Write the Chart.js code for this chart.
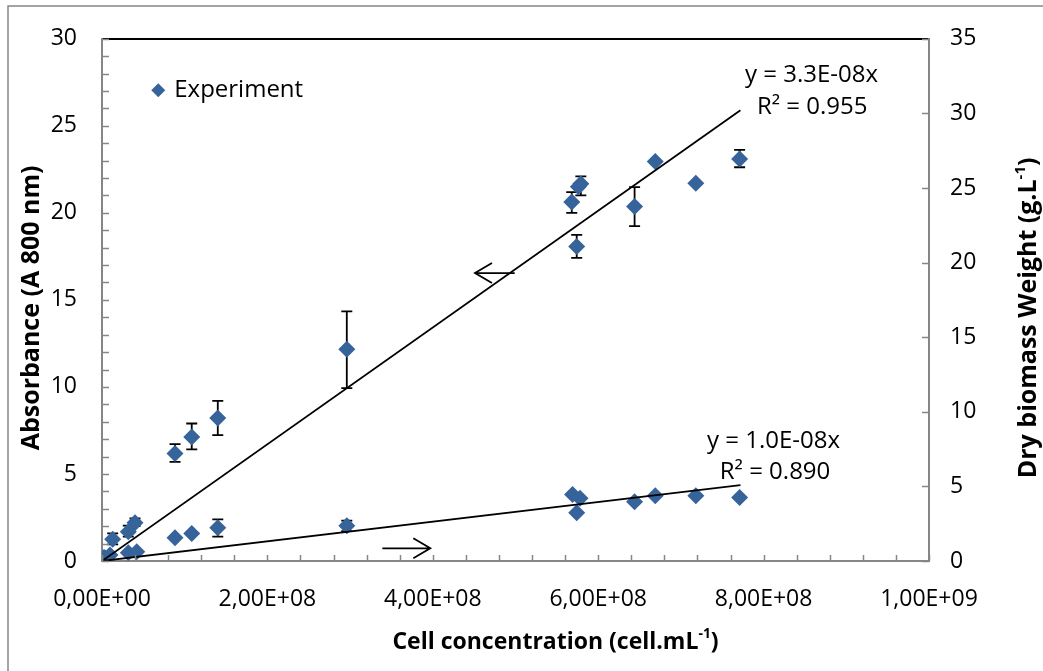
<!DOCTYPE html>
<html>
<head>
<meta charset="utf-8">
<script src="https://cdn.jsdelivr.net/npm/chart.js@4.4.1/dist/chart.umd.min.js"></script>
<style>
  html, body { margin: 0; padding: 0; background: #fff; overflow: hidden; }
</style>
</head>
<body>
<canvas id="chart" width="1043" height="671"></canvas>
<script>
// absorbance vs cell concentration (left axis)
const absX = [2.4e6, 9.7e6, 1.29e7, 3.18e7, 3.99e7, 8.83e7, 1.085e8, 1.40e8, 2.96e8,
              5.68e8, 5.74e8, 5.76e8, 5.79e8, 6.44e8, 6.69e8, 7.18e8, 7.71e8];
const absY = [0.2, 0.35, 1.25, 1.68, 2.2, 6.18, 7.13, 8.22, 12.16,
              20.62, 18.07, 21.5, 21.67, 20.37, 22.95, 21.7, 23.1];
const absLow = [null, null, 0.95, 1.4, 2.0, 5.7, 6.41, 7.23, 9.93,
                20.0, 17.42, null, 21.0, 19.24, null, null, 22.62];
const absHigh = [null, null, 1.59, 2.03, 2.45, 6.71, 7.9, 9.2, 14.34,
                 21.19, 18.74, null, 22.1, 21.48, null, null, 23.62];

// dry biomass vs cell concentration (right axis)
const bioX = [3.7e6, 3.18e7, 4.2e7, 8.83e7, 1.085e8, 1.40e8, 2.96e8,
              5.69e8, 5.74e8, 5.78e8, 6.44e8, 6.69e8, 7.18e8, 7.71e8];
const bioY = [0.2, 0.56, 0.62, 1.56, 1.85, 2.23, 2.36,
              4.46, 3.23, 4.2, 3.97, 4.37, 4.37, 4.26];
const bioLow = [null, null, null, null, null, 1.63, 2.0, null, null, null, null, null, null, null];
const bioHigh = [null, null, null, null, null, 2.79, 2.7, null, null, null, null, null, null, null];

// trendlines as drawn (through origin)
const trendAbsX = [0, 7.72e8];
const trendAbsY = [0, 25.9];
const trendBioX = [0, 7.72e8];
const trendBioY = [0, 5.09];

// arrows pointing to the axis each series belongs to (left axis units)
const arrowFromX = [4.99e8, 3.39e8];
const arrowToX = [4.51e8, 3.97e8];
const arrowY = [16.54, 0.73];

// trendline labels: [text, x, y (left axis units)]
const eqLabels = [
    ["y = 3.3E-08x", 7.775e8, 27.94],
    ["R\u00b2 = 0.955", 7.92e8, 26.1],
    ["y = 1.0E-08x", 7.315e8, 6.88],
    ["R\u00b2 = 0.890", 7.47e8, 5.1],
];

const legendLabel = "Experiment";
const markerColor = "#36649a";
const axisGrey = "#868686";
const font = "'Open Sans', 'Noto Sans', sans-serif";

const toPts = (xs, ys) => xs.map((x, i) => ({ x: x, y: ys[i] }));

const sciLabel = (v) => {
    if (v === 0) return "0,00E+00";
    const e = Math.floor(Math.log10(v) + 1e-9);
    const m = v / Math.pow(10, e);
    return m.toFixed(2).replace(".", ",") + "E+" + String(e).padStart(2, "0");
};

const drawRich = (ctx, parts, x, y, size, rotate) => {
    ctx.save();
    ctx.translate(x, y);
    if (rotate) ctx.rotate(-Math.PI / 2);
    ctx.textBaseline = "middle";
    ctx.textAlign = "left";
    let total = 0;
    parts.forEach((p) => {
        ctx.font = "bold " + (p.sup ? size * 0.6 : size) + "px " + font;
        total += ctx.measureText(p.t).width;
    });
    let cx = -total / 2;
    parts.forEach((p) => {
        ctx.font = "bold " + (p.sup ? size * 0.6 : size) + "px " + font;
        ctx.fillText(p.t, cx, p.sup ? -size * 0.35 : 0);
        cx += ctx.measureText(p.t).width;
    });
    ctx.restore();
};

const extras = {
    id: "extras",
    beforeDraw(chart) {
        const ctx = chart.ctx;
        ctx.save();
        ctx.strokeStyle = axisGrey;
        ctx.lineWidth = 1.5;
        ctx.strokeRect(8, 6, 1100, 700);
        ctx.restore();
    },
    beforeDatasetsDraw(chart) {
        const ctx = chart.ctx;
        const xs = chart.scales.x;
        ctx.save();
        ctx.strokeStyle = "#000";
        ctx.lineWidth = 1.8;
        const bars = (X, lo, hi, scale) => {
            X.forEach((xv, i) => {
                if (lo[i] === null) return;
                const px = xs.getPixelForValue(xv);
                const p1 = scale.getPixelForValue(lo[i]);
                const p2 = scale.getPixelForValue(hi[i]);
                ctx.beginPath();
                ctx.moveTo(px, p1); ctx.lineTo(px, p2);
                ctx.moveTo(px - 5.5, p1); ctx.lineTo(px + 5.5, p1);
                ctx.moveTo(px - 5.5, p2); ctx.lineTo(px + 5.5, p2);
                ctx.stroke();
            });
        };
        bars(absX, absLow, absHigh, chart.scales.y);
        bars(bioX, bioLow, bioHigh, chart.scales.y2);
        ctx.restore();
    },
    afterDraw(chart) {
        const ctx = chart.ctx;
        const { x: xs, y: ys, y2: ys2 } = chart.scales;
        const a = chart.chartArea;
        ctx.save();
        // inside tick marks
        ctx.strokeStyle = axisGrey;
        ctx.lineWidth = 1.5;
        ctx.beginPath();
        for (let v = 0; v <= 1e9 + 1; v += 4e7) {
            const px = Math.round(xs.getPixelForValue(v)) + 0.5;
            ctx.moveTo(px, a.bottom); ctx.lineTo(px, a.bottom - 6);
        }
        for (let v = 0; v <= 30; v += 1) {
            const py = Math.round(ys.getPixelForValue(v)) + 0.5;
            ctx.moveTo(a.left, py); ctx.lineTo(a.left + 7, py);
        }
        for (let v = 0; v <= 35; v += 5) {
            const py = Math.round(ys2.getPixelForValue(v)) + 0.5;
            ctx.moveTo(a.right, py); ctx.lineTo(a.right - 7, py);
        }
        ctx.stroke();

        // arrows
        ctx.strokeStyle = "#000";
        ctx.lineWidth = 1.8;
        arrowFromX.forEach((fx, i) => {
            const x1 = xs.getPixelForValue(fx);
            const x2 = xs.getPixelForValue(arrowToX[i]);
            const py = ys.getPixelForValue(arrowY[i]);
            const dir = x2 > x1 ? 1 : -1;
            ctx.beginPath();
            ctx.moveTo(x1, py); ctx.lineTo(x2, py);
            ctx.moveTo(x2 - dir * 17, py - 10); ctx.lineTo(x2, py); ctx.lineTo(x2 - dir * 17, py + 10);
            ctx.stroke();
        });

        // trendline labels
        ctx.fillStyle = "#000";
        ctx.font = "24px " + font;
        ctx.textBaseline = "middle";
        ctx.textAlign = "left";
        eqLabels.forEach(([t, xv, yv]) => {
            ctx.fillText(t, xs.getPixelForValue(xv), ys.getPixelForValue(yv));
        });

        // legend
        const lx = xs.getPixelForValue(0.68e8);
        const ly = ys.getPixelForValue(27.05);
        ctx.fillStyle = markerColor;
        ctx.beginPath();
        ctx.moveTo(lx, ly - 7); ctx.lineTo(lx + 7, ly); ctx.lineTo(lx, ly + 7); ctx.lineTo(lx - 7, ly);
        ctx.closePath();
        ctx.fill();
        ctx.fillStyle = "#000";
        ctx.font = "24px " + font;
        ctx.fillText(legendLabel, lx + 16, ly);

        // axis titles
        drawRich(ctx, [{ t: "Cell concentration (cell.mL" }, { t: "-1", sup: true }, { t: ")" }],
            (a.left + a.right) / 2 + 40, 642, 23, false);
        drawRich(ctx, [{ t: "Absorbance (A 800 nm)" }], 32, (a.top + a.bottom) / 2 + 8, 25, true);
        drawRich(ctx, [{ t: "Dry biomass Weight (g.L" }, { t: "-1", sup: true }, { t: ")" }],
            1029, (a.top + a.bottom) / 2 + 18, 25, true);
        ctx.restore();
    },
};

const tickFont = { family: font, size: 23 };

new Chart(document.getElementById("chart"), {
    type: "scatter",
    data: {
        datasets: [
            {
                label: "trend absorbance",
                data: toPts(trendAbsX, trendAbsY),
                showLine: true,
                borderColor: "#000",
                borderWidth: 1.8,
                pointRadius: 0,
                yAxisID: "y",
                order: 0,
            },
            {
                label: "trend biomass",
                data: toPts(trendBioX, trendBioY),
                showLine: true,
                borderColor: "#000",
                borderWidth: 1.8,
                pointRadius: 0,
                yAxisID: "y2",
                order: 0,
            },
            {
                label: legendLabel,
                data: toPts(absX, absY),
                pointStyle: "rectRot",
                pointRadius: 8.5,
                backgroundColor: markerColor,
                borderColor: markerColor,
                borderWidth: 0,
                yAxisID: "y",
                order: 1,
            },
            {
                label: legendLabel,
                data: toPts(bioX, bioY),
                pointStyle: "rectRot",
                pointRadius: 8.5,
                backgroundColor: markerColor,
                borderColor: markerColor,
                borderWidth: 0,
                yAxisID: "y2",
                order: 1,
            },
        ],
    },
    options: {
        responsive: false,
        animation: false,
        layout: { padding: { top: 38, left: 0, right: 0, bottom: 0 } },
        plugins: { legend: { display: false }, tooltip: { enabled: false } },
        scales: {
            x: {
                type: "linear",
                min: 0,
                max: 1e9,
                afterFit: (s) => { s.height = 110; },
                ticks: {
                    stepSize: 2e8,
                    color: "#000",
                    font: tickFont,
                    padding: 25,
                    callback: (v) => sciLabel(v),
                },
                grid: { display: false, drawTicks: false },
                border: { display: true, color: axisGrey, width: 2 },
            },
            y: {
                position: "left",
                min: 0,
                max: 30,
                afterFit: (s) => { s.width = 102; },
                ticks: { stepSize: 5, color: "#000", font: tickFont, padding: 25 },
                grid: {
                    drawTicks: false,
                    lineWidth: 2,
                    color: (c) => (c.tick && c.tick.value === 30 ? "#000" : "rgba(0,0,0,0)"),
                },
                border: { display: true, color: axisGrey, width: 2 },
            },
            y2: {
                position: "right",
                min: 0,
                max: 35,
                afterFit: (s) => { s.width = 114; },
                ticks: { stepSize: 5, color: "#000", font: tickFont, padding: 21 },
                grid: { display: false, drawTicks: false },
                border: { display: true, color: axisGrey, width: 2 },
            },
        },
    },
    plugins: [extras],
});
</script>
</body>
</html>
